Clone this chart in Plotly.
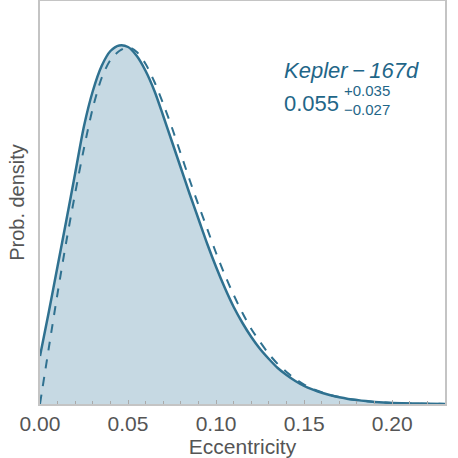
import plotly.graph_objects as go

# eccentricity grid shared by both curves
ecc = [0.000, 0.005, 0.010, 0.015, 0.020, 0.025, 0.030, 0.035, 0.040, 0.045,
       0.050, 0.055, 0.060, 0.065, 0.070, 0.075, 0.080, 0.085, 0.090, 0.095,
       0.100, 0.105, 0.110, 0.115, 0.120, 0.125, 0.130, 0.135, 0.140, 0.145,
       0.150, 0.155, 0.160, 0.165, 0.170, 0.175, 0.180, 0.185, 0.190, 0.195,
       0.200, 0.210, 0.220, 0.230]

# posterior (solid, filled)
post = [48, 92, 138, 184, 231, 278, 313, 338, 353, 358.5,
        357, 348, 333, 313, 288, 262, 236, 210, 185, 160,
        137, 116, 97, 81, 67, 55, 45, 36, 29, 23,
        18, 14.3, 11.2, 8.7, 6.7, 5.1, 3.9, 2.9, 2.1, 1.5,
        1.1, 0.55, 0.25, 0.1]

# fitted distribution (dashed)
fit = [0, 56, 111, 163, 211, 256, 296, 326, 344, 353,
       357, 352, 340, 322, 300, 276, 250, 224, 199, 175,
       151, 129, 109, 91, 75, 62, 50, 40, 32, 25,
       19.5, 15, 11.7, 9, 6.9, 5.2, 3.9, 2.9, 2.1, 1.5,
       1.05, 0.5, 0.22, 0.1]

line_col = "#2f7190"
fill_col = "#c6d9e3"
frame_col = "#c4c4c4"
text_col = "#555555"
label_col = "#1f6688"

fig = go.Figure()
fig.add_trace(go.Scatter(
    x=ecc, y=post, mode="lines",
    line=dict(color=line_col, width=2.5, shape="spline", smoothing=0.8),
    fill="tozeroy", fillcolor=fill_col, hoverinfo="skip",
))
fig.add_trace(go.Scatter(
    x=ecc, y=fit, mode="lines",
    line=dict(color=line_col, width=2, dash="dash", shape="spline", smoothing=0.8),
    hoverinfo="skip",
))

font = "Liberation Sans, Arial, sans-serif"

fig.add_annotation(x=0.6, y=0.861, xref="paper", yref="paper", xanchor="left",
                   text="<i>Kepler\u2009\u2212\u2009167d</i>", showarrow=False, borderpad=0,
                   font=dict(family=font, size=22, color=label_col))
fig.add_annotation(x=0.6, y=0.779, xref="paper", yref="paper", xanchor="left",
                   text="0.055", showarrow=False, borderpad=0,
                   font=dict(family=font, size=22, color=label_col))
fig.add_annotation(x=0.748, y=0.801, xref="paper", yref="paper", xanchor="left",
                   text="+0.035", showarrow=False, borderpad=0,
                   font=dict(family=font, size=15, color=label_col))
fig.add_annotation(x=0.748, y=0.754, xref="paper", yref="paper", xanchor="left",
                   text="\u22120.027", showarrow=False, borderpad=0,
                   font=dict(family=font, size=15, color=label_col))

fig.update_layout(
    width=458, height=458,
    margin=dict(l=40, r=13, t=1, b=54),
    plot_bgcolor="white", paper_bgcolor="white",
    showlegend=False,
    font=dict(family=font, color=text_col),
)
fig.update_xaxes(
    range=[0, 0.23], dtick=0.05, tickformat=".2f", automargin=False,
    showgrid=False, zeroline=False,
    showline=True, mirror=True, linecolor=frame_col, linewidth=1.5,
    ticks="inside", ticklen=4, tickcolor="#aaaaaa",
    minor=dict(dtick=0.01, ticks="inside", ticklen=3, tickcolor="#aaaaaa"),
    tickfont=dict(size=21, color=text_col),
    title=dict(text="Eccentricity", font=dict(size=21, color=text_col), standoff=2),
)
fig.update_yaxes(
    range=[0, 403], showticklabels=False, ticks="", automargin=False,
    showgrid=False, zeroline=False,
    showline=True, mirror=True, linecolor=frame_col, linewidth=1.5,
    title=dict(text="Prob. density", font=dict(size=20, color=text_col), standoff=8),
)

# drop the page's default body margin so the figure sits at the window corner
fig.write_html("out.html", config={"displayModeBar": False},
               post_script="document.body.style.margin='0px';")
